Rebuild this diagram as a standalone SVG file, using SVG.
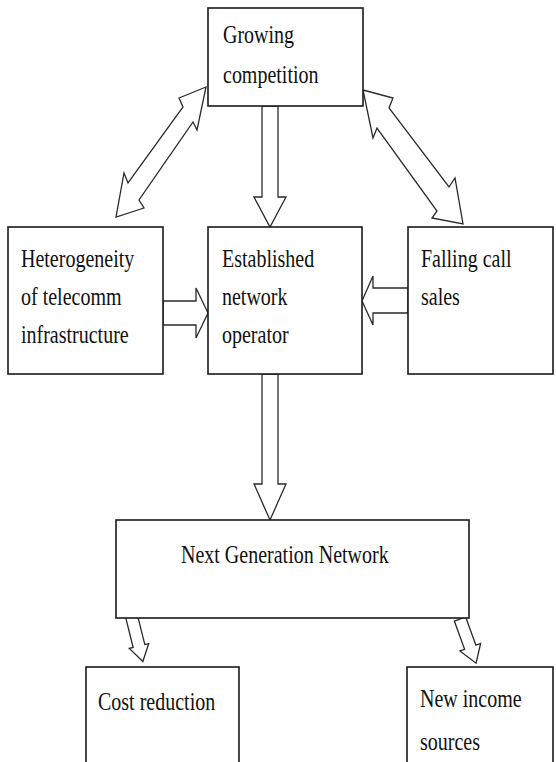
<svg xmlns="http://www.w3.org/2000/svg" width="556" height="762" viewBox="0 0 556 762">
  <style>
    .box { fill: #ffffff; stroke: #1a1a1a; stroke-width: 1.6; }
    .arr { fill: #ffffff; stroke: #2a2a2a; stroke-width: 1.3; stroke-linejoin: miter; }
    text { font-family: 'Liberation Serif', 'DejaVu Serif', serif; font-size: 20px; fill: #111111; }
  </style>
  <rect x="0" y="0" width="556" height="762" fill="#ffffff"/>
  <g id="connectors">
    <polygon class="arr" points="206,87 179,98 183,107 128,183 124,173 116,217 144,208 139,200 193,122 197,130"/>
    <polygon class="arr" points="363,90 393,98 389,108 449,187 455,178 463,224 432,218 437,211 377,128 373,138"/>
    <polygon class="arr" points="262,106 278,106 278,197 286,197 270,227 254,197 262,197"/>
    <polygon class="arr" points="163,301 196,301 196,288 208,313 196,338 196,325 163,325"/>
    <polygon class="arr" points="408,288 373,288 373,276 362,301 373,325 373,313 408,313"/>
    <polygon class="arr" points="262,374 278,374 278,484 286,484 270,520 254,484 262,484"/>
    <polygon class="arr" transform="translate(131,614) rotate(-14)" points="-6,0 6,0 6,33 10,33 0,49 -10,33 -6,33"/>
    <polygon class="arr" transform="translate(460,619) rotate(-20)" points="-6,0 6,0 6,30 11,30 0,47 -11,30 -6,30"/>
  </g>
  <g id="growing-competition">
    <rect class="box" x="208" y="8" width="155" height="98"/>
    <text transform="translate(223,43) scale(1,1.28)">Growing</text>
    <text transform="translate(223,83) scale(1,1.28)">competition</text>
  </g>
  <g id="heterogeneity">
    <rect class="box" x="8" y="227" width="155" height="147"/>
    <text transform="translate(21,267) scale(1,1.28)">Heterogeneity</text>
    <text transform="translate(21,305) scale(1,1.28)">of telecomm</text>
    <text transform="translate(21,343) scale(1,1.28)">infrastructure</text>
  </g>
  <g id="established-operator">
    <rect class="box" x="208" y="227" width="154" height="147"/>
    <text transform="translate(222,267) scale(1,1.28)">Established</text>
    <text transform="translate(222,305) scale(1,1.28)">network</text>
    <text transform="translate(222,343) scale(1,1.28)">operator</text>
  </g>
  <g id="falling-call-sales">
    <rect class="box" x="408" y="227" width="145" height="147"/>
    <text transform="translate(421,267) scale(1,1.28)">Falling call</text>
    <text transform="translate(421,305) scale(1,1.28)">sales</text>
  </g>
  <g id="next-generation-network">
    <rect class="box" x="116" y="520" width="353" height="98"/>
    <text transform="translate(181,563) scale(1,1.28)">Next Generation Network</text>
  </g>
  <g id="cost-reduction">
    <rect class="box" x="86" y="667" width="153" height="110"/>
    <text transform="translate(98,710) scale(1,1.28)">Cost reduction</text>
  </g>
  <g id="new-income-sources">
    <rect class="box" x="407" y="667" width="146" height="110"/>
    <text transform="translate(420,707) scale(1,1.28)">New income</text>
    <text transform="translate(420,750) scale(1,1.28)">sources</text>
  </g>
</svg>
